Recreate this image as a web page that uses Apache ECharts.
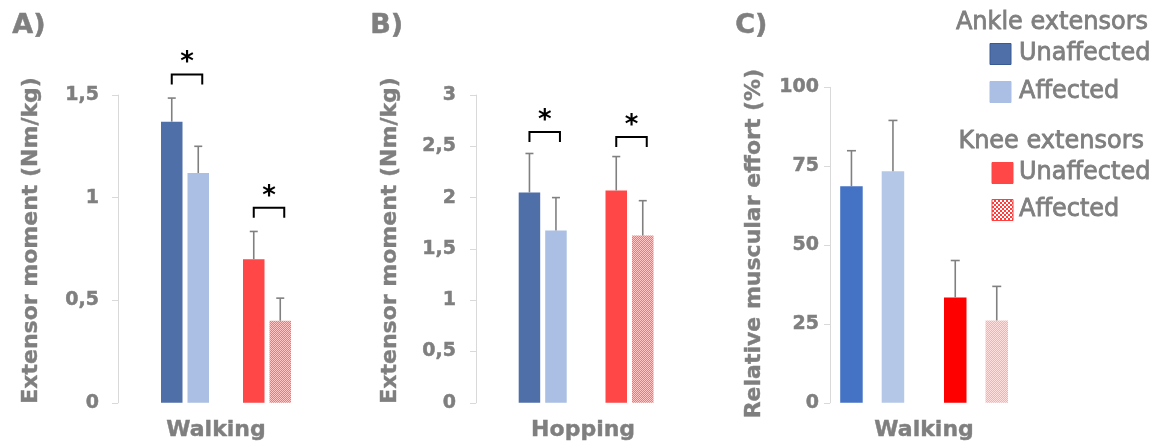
<!DOCTYPE html>
<html><head><meta charset="utf-8">
<script src="https://cdn.jsdelivr.net/npm/echarts@6/dist/echarts.min.js"></script>
<style>html,body{margin:0;padding:0;background:#fff}#c{width:1158px;height:446px}</style>
</head><body><div id="c"></div>
<script>
// ---------- DATA ----------
const groups = ['Ankle extensors', 'Knee extensors'];
// A) Walking - extensor moment (Nm/kg)
const walkMomentUnaffected = [1.37, 0.70];
const walkMomentUnaffectedErr = [0.115, 0.135];
const walkMomentAffected = [1.12, 0.40];
const walkMomentAffectedErr = [0.13, 0.11];
const walkMomentSig = [1.60, 0.95];           // significance bracket heights
// B) Hopping - extensor moment (Nm/kg)
const hopMomentUnaffected = [2.05, 2.07];
const hopMomentUnaffectedErr = [0.38, 0.33];
const hopMomentAffected = [1.68, 1.63];
const hopMomentAffectedErr = [0.32, 0.34];
const hopMomentSig = [2.64, 2.59];
// C) Walking - relative muscular effort (%)
const walkEffortUnaffected = [68.6, 33.4];
const walkEffortUnaffectedErr = [11.3, 11.7];
const walkEffortAffected = [73.4, 26.1];
const walkEffortAffectedErr = [16.1, 10.8];
const walkEffortSig = [];
const legendGroups = ['Ankle extensors', 'Knee extensors'];
const legendItems = ['Unaffected', 'Affected'];
const panelLabels = ['A)', 'B)', 'C)'];
const xNames = ['Walking', 'Hopping', 'Walking'];
const yNames = ['Extensor moment (Nm/kg)', 'Extensor moment (Nm/kg)', 'Relative muscular effort (%)'];

// ---------- STYLE ----------
const GRAY = '#7f7f7f';
const FONT = 'DejaVu Sans';
function checker(c1, c2, s) {
  const cv = document.createElement('canvas');
  cv.width = cv.height = 2 * s;
  const ctx = cv.getContext('2d');
  ctx.fillStyle = c1; ctx.fillRect(0, 0, 2 * s, 2 * s);
  ctx.fillStyle = c2; ctx.fillRect(0, 0, s, s); ctx.fillRect(s, s, s, s);
  return { image: cv, repeat: 'repeat' };
}
const patAB = checker('#ff7070', '#ffc4c4', 1);
const patC = checker('#ffacac', '#ffdede', 1);
const patLegend = checker('#ff3b3b', '#ffffff', 2);

const panels = [
  { grid: { left: 144, top: 95, width: 164, height: 309 }, max: 1.5, interval: 0.5, offset: 26, lm: 19,
    yGap: 76, yPad: [0, 0, 0, 17], xPad: [0, 20, 0, 0], bw: 21.5, gap: 5, cap: 8,
    un: walkMomentUnaffected, unE: walkMomentUnaffectedErr, af: walkMomentAffected, afE: walkMomentAffectedErr, sig: walkMomentSig,
    colors: [['#4f6fa8', '#aabfe3'], ['#ff4747', patAB]], lx: 12 },
  { grid: { left: 499.3, top: 95, width: 173.6, height: 309 }, max: 3, interval: 0.5, offset: 23.3, lm: 20,
    yGap: 75, yPad: [0, 0, 0, 17], xPad: [0, 6, 0, 0], bw: 21.5, gap: 5, cap: 8,
    un: hopMomentUnaffected, unE: hopMomentUnaffectedErr, af: hopMomentAffected, afE: hopMomentAffectedErr, sig: hopMomentSig,
    colors: [['#4f6fa8', '#aabfe3'], ['#ff4747', patAB]], lx: 370 },
  { grid: { left: 820.3, top: 87.3, width: 207.6, height: 317 }, max: 100, interval: 25, offset: -9.7, lm: 11,
    yGap: 65, yPad: [0, 0, 0, 3], xPad: [0, 0, 0, 0], bw: 22.5, gap: 19, cap: 9,
    un: walkEffortUnaffected, unE: walkEffortUnaffectedErr, af: walkEffortAffected, afE: walkEffortAffectedErr, sig: walkEffortSig,
    colors: [['#4472c4', '#b4c7e7'], ['#ff0000', patC]], lx: 735 }
];

const grid = [], xAxis = [], yAxis = [], series = [], graphic = [];
panels.forEach((p, k) => {
  grid.push(p.grid);
  xAxis.push({ type: 'category', gridIndex: k, data: groups, axisLine: { show: false }, axisTick: { show: false },
    axisLabel: { show: false }, name: xNames[k], nameLocation: 'middle', nameGap: 16,
    nameTextStyle: { color: GRAY, fontFamily: FONT, fontWeight: 'bold', fontSize: 22, padding: p.xPad,
      textBorderColor: GRAY, textBorderWidth: 0.4 } });
  yAxis.push({ type: 'value', gridIndex: k, min: 0, max: p.max, interval: p.interval, offset: p.offset,
    axisLine: { show: true, lineStyle: { color: '#d9d9d9', width: 1 } },
    axisTick: { show: true, length: 6, lineStyle: { color: '#d9d9d9' } },
    splitLine: { show: false },
    axisLabel: { color: GRAY, fontFamily: FONT, fontWeight: 'bold', fontSize: 19, margin: p.lm,
      textBorderColor: GRAY, textBorderWidth: 0.5,
      formatter: v => String(v).replace('.', ',') },
    name: yNames[k], nameLocation: 'middle', nameRotate: 90, nameGap: p.yGap,
    nameTextStyle: { color: GRAY, fontFamily: FONT, fontWeight: 'bold', fontSize: 22, padding: p.yPad,
      textBorderColor: GRAY, textBorderWidth: 0.4 } });
  const off = (p.bw + p.gap) / 2;
  series.push({ type: 'bar', name: 'Unaffected', xAxisIndex: k, yAxisIndex: k, barWidth: p.bw,
    barGap: (p.gap / p.bw * 100) + '%',
    data: p.un.map((v, i) => ({ value: v, itemStyle: { color: p.colors[i][0] } })) });
  series.push({ type: 'bar', name: 'Affected', xAxisIndex: k, yAxisIndex: k, barWidth: p.bw,
    barGap: (p.gap / p.bw * 100) + '%',
    data: p.af.map((v, i) => ({ value: v, itemStyle: { color: p.colors[i][1] } })) });
  const errData = [];
  p.un.forEach((v, i) => errData.push([i, v, p.unE[i], -1]));
  p.af.forEach((v, i) => errData.push([i, v, p.afE[i], 1]));
  series.push({ type: 'custom', xAxisIndex: k, yAxisIndex: k, clip: false, z: 3, data: errData,
    encode: { x: 0, y: 1 },
    renderItem: (params, api) => {
      const c = api.value(0), v = api.value(1), e = api.value(2), s = api.value(3);
      const b = api.coord([c, v]), t = api.coord([c, v + e]);
      const x = b[0] + s * off;
      const st = { stroke: '#808080', lineWidth: 1.6 };
      return { type: 'group', children: [
        { type: 'line', shape: { x1: x, y1: b[1], x2: x, y2: t[1] }, style: st },
        { type: 'line', shape: { x1: x - p.cap / 2, y1: t[1], x2: x + p.cap / 2, y2: t[1] }, style: st }
      ] };
    } });
  if (p.sig.length) {
    series.push({ type: 'custom', xAxisIndex: k, yAxisIndex: k, clip: false, z: 4,
      data: p.sig.map((v, i) => [i, v]), encode: { x: 0, y: 1 },
      renderItem: (params, api) => {
        const c = api.coord([api.value(0), api.value(1)]);
        const x1 = c[0] - off, x2 = c[0] + off + 4, y = c[1];
        return { type: 'group', children: [
          { type: 'polyline', shape: { points: [[x1, y + 10], [x1, y], [x2, y], [x2, y + 10]] },
            style: { stroke: '#000', lineWidth: 2, fill: null } },
          { type: 'text', x: (x1 + x2) / 2, y: y - 11,
            style: { text: '*', fill: '#000', font: 'bold 26px ' + FONT, align: 'center', verticalAlign: 'middle' } }
        ] };
      } });
  }
  graphic.push({ type: 'text', left: p.lx, top: 12,
    style: { text: panelLabels[k], fill: GRAY, font: 'bold 27px ' + FONT, stroke: GRAY, lineWidth: 0.5 } });
});

// legend (panel C)
const legendBoxes = [
  [{ fill: '#4f6fa8', stroke: '#3a5a94' }, { fill: '#aabfe3', stroke: '#aabfe3' }],
  [{ fill: '#ff4747', stroke: '#ff4747' }, { fill: patLegend, stroke: '#ff4040' }]
];
const legendLayout = [
  { headRight: 1148, headY: 23, boxX: 990, rows: [54, 92] },
  { headRight: 1144, headY: 142, boxX: 992, rows: [173, 210] }
];
legendGroups.forEach((g, gi) => {
  const L = legendLayout[gi];
  graphic.push({ type: 'text', x: L.headRight, y: L.headY,
    style: { text: g, fill: GRAY, font: '24px ' + FONT, align: 'right', verticalAlign: 'middle', stroke: GRAY, lineWidth: 0.8 } });
  legendItems.forEach((it, ii) => {
    const cy = L.rows[ii];
    graphic.push({ type: 'rect', shape: { x: L.boxX, y: cy - 10.5, width: 21, height: 21 },
      style: { fill: legendBoxes[gi][ii].fill, stroke: legendBoxes[gi][ii].stroke, lineWidth: 1 } });
    graphic.push({ type: 'text', x: 1019, y: cy,
      style: { text: it, fill: GRAY, font: '24px ' + FONT, align: 'left', verticalAlign: 'middle', stroke: GRAY, lineWidth: 0.8 } });
  });
});

const chart = echarts.init(document.getElementById('c'));
chart.setOption({ animation: false, backgroundColor: '#fff', grid, xAxis, yAxis, series, graphic });
</script></body></html>
